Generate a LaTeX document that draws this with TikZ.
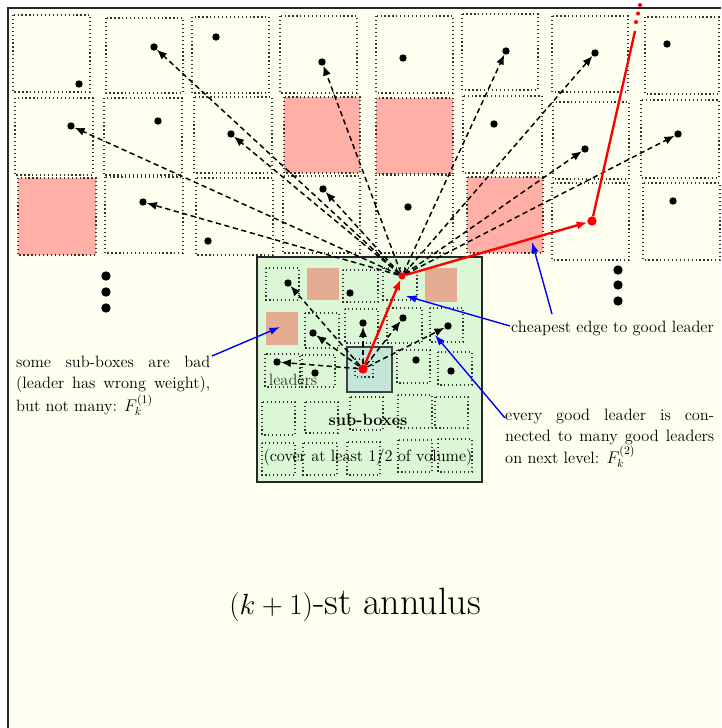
\documentclass[tikz,border=0pt]{standalone}
\usetikzlibrary{arrows.meta}
\definecolor{cream}{HTML}{FEFFEF}
\definecolor{badred}{HTML}{FFAFA5}
\definecolor{boxgreen}{HTML}{DCF7D5}
\definecolor{badbrown}{HTML}{E4AC93}
\definecolor{tealbox}{HTML}{C3E6D9}
\newcommand\lblfont{\fontsize{14}{18.2}\selectfont}
\begin{document}
\begin{tikzpicture}[x=0.03cm,y=-0.03cm,
  obox/.style={draw=black!80, dash pattern=on 1.05pt off 2.3pt, line width=1.05pt},
  ldot/.style={circle, fill=black, inner sep=0pt, minimum size=6.3pt},
  edot/.style={circle, fill=black, inner sep=0pt, minimum size=8pt},
  rdot/.style={circle, fill=red, inner sep=0pt, minimum size=3.5pt},
  darr/.style={dash pattern=on 4.5pt off 3pt, line width=1.25pt, -{Latex[length=8.5pt,width=7pt]}},
  rarr/.style={red, line width=2pt, -{Latex[length=9pt,width=7pt]}},
  barr/.style={blue, line width=1.2pt, -{Latex[length=9pt,width=6.5pt]}},
  txt/.style={inner sep=0pt, font=\lblfont}]
\useasboundingbox (0,0) rectangle (721,728);
\fill[white] (0,0) rectangle (721,728);
\fill[cream] (8,8) rectangle (721,728);
\draw[line width=1.2pt, black!85] (8,728) -- (8,8) -- (721,8);

% bad outer boxes
\foreach \a/\b/\c/\d in {284/97/360/173, 376/98/453/174, 18/178/96/255, 467/177/543/253}
  \fill[badred] (\a,\b) rectangle (\c,\d);
% outer boxes
\foreach \a/\b/\c/\d in {13/15/90/92, 106/18/183/93, 192/17/269/93, 280/16/357/93, 376/16/453/93, 462/14/538/90, 552/16/628/92, 645/17/719/94,
  15/98/93/175, 104/98/182/175, 194/97/272/173, 284/97/360/173, 376/98/453/174, 463/96/542/173, 553/102/629/179, 641/100/719/178,
  18/178/96/255, 105/177/183/253, 196/178/273/255, 283/176/360/253, 376/175/453/253, 467/177/543/253, 552/183/629/260, 643/183/720/260}
  \draw[obox] (\a,\b) rectangle (\c,\d);

% outer leaders
\node[ldot] (d11) at (79,84) {};
\node[ldot] (d12) at (154,47) {};
\node[ldot] (d13) at (216,37) {};
\node[ldot] (d14) at (322,62) {};
\node[ldot] (d15) at (403,58) {};
\node[ldot] (d16) at (506,51) {};
\node[ldot] (d17) at (595,53) {};
\node[ldot] (d18) at (667,44) {};
\node[ldot] (d21) at (71,126) {};
\node[ldot] (d22) at (158,121) {};
\node[ldot] (d23) at (231,134) {};
\node[ldot] (d26) at (494,124) {};
\node[ldot] (d27) at (585,149) {};
\node[ldot] (d28) at (678,134) {};
\node[ldot] (d32) at (143,202) {};
\node[ldot] (d33) at (208,241) {};
\node[ldot] (d34) at (323,189) {};
\node[ldot] (d35) at (408,207) {};
\node[ldot] (d38) at (673,201) {};
\node[circle, fill=red, inner sep=0pt, minimum size=8pt] (d37) at (592,221) {};

% vertical ellipses
\node[edot] (e1) at (106,276) {};
\node[edot] (e2) at (106,292) {};
\node[edot] (e3) at (106,308) {};
\node[edot] (e4) at (618,270) {};
\node[edot] (e5) at (618,285) {};
\node[edot] (e6) at (618,301) {};

% green box
\draw[fill=boxgreen, draw=black!85, line width=0.9pt] (257,257) rectangle (482,482);
\foreach \a/\b/\c/\d in {307/268/339/300, 425/268/457/302, 266/312/298/345}
  \fill[badbrown] (\a,\b) rectangle (\c,\d);
\foreach \a/\b/\c/\d in {266/268/299/300, 343/270/378/302, 383/268/417/300,
  305/313/339/348, 345/309/378/343, 387/308/422/343, 430/308/463/342,
  265/354/300/387, 302/355/335/387, 397/350/430/383, 438/352/472/385,
  262/402/295/435, 305/402/338/433, 350/397/383/430, 398/395/432/428, 435/397/468/428,
  262/443/295/475, 303/443/337/475, 347/442/380/475, 398/440/432/472, 438/439/472/472}
  \draw[obox] (\a,\b) rectangle (\c,\d);
\draw[fill=tealbox, draw=black!75, line width=0.9pt] (347,347) rectangle (392,392);
\draw[obox] (355,359) rectangle (373,377);

% inner leaders
\node[ldot] (a1) at (288,283) {};
\node[ldot] (a3) at (350,293) {};
\node[ldot] (b2) at (313,333) {};
\node[ldot] (b3) at (363,323) {};
\node[ldot] (b4) at (403,318) {};
\node[ldot] (b5) at (448,326) {};
\node[ldot] (c1) at (277,362) {};
\node[ldot] (c2) at (315,373) {};
\node[ldot] (c4) at (416,360) {};
\node[ldot] (c5) at (451,371) {};
\node[circle, fill=red, inner sep=0pt, minimum size=8pt] (ctr) at (363,369) {};
\node[circle, fill=red, inner sep=0pt, minimum size=6pt] (hub) at (402,276) {};

% inner dashed arrows
\foreach \t in {a1,b2,b3,b4,b5,c1}
  \draw[darr] (ctr) -- (\t);
% outer dashed arrows
\foreach \t in {d12,d14,d16,d17,d21,d23,d27,d28,d32,d34}
  \draw[darr] (hub) -- (\t);

% red path
\draw[rarr] (ctr) -- (hub);
\draw[rarr] (hub) -- (d37);
\coordinate (rtop) at (635,31);
\draw[red, line width=2pt] (d37) -- (rtop);
\node[rdot] (r1) at (636,22) {};
\node[rdot] (r2) at (638,13.5) {};
\node[rdot] (r3) at (640,5) {};

% texts
\node[txt, text=black!80, anchor=base] (lead) at (293,385) {leaders};
\node[txt, anchor=base] (sub) at (368,425) {\bfseries sub-boxes};
\node[txt, anchor=base] (cov) at (368,461) {(cover at least 1/2 of volume)};
\node[inner sep=0pt, anchor=base, font=\fontsize{32.5}{38}\selectfont] (ann) at (355,614) {$(k+1)$-st annulus};

\node[txt, anchor=north west, text width=5.82cm, align=justify] (lab1) at (16,356)
  {\tolerance=9999\hbadness=10000 some sub-boxes are bad\linebreak (leader has wrong weight),\linebreak but not many: $F_k^{(1)}$};
\node[txt, anchor=base west] (lab2) at (511,332) {cheapest edge to good leader};
\node[txt, anchor=north west, text width=6.27cm, align=justify] (lab3) at (505,409)
  {\tolerance=9999\hbadness=10000 every good leader is con-\linebreak nected to many good leaders\linebreak on next level: $F_k^{(2)}$};

% blue arrows
\coordinate (bs1) at (212,356);
\coordinate (bt1) at (280,327);
\coordinate (bs2) at (510,326);
\coordinate (bt2) at (406,296);
\coordinate (bs3) at (552,314);
\coordinate (bt3) at (532,242);
\coordinate (bs4) at (505,418);
\coordinate (bt4) at (435,335);
\draw[barr] (bs1) -- (bt1);
\draw[barr] (bs2) -- (bt2);
\draw[barr] (bs3) -- (bt3);
\draw[barr] (bs4) -- (bt4);
\end{tikzpicture}
\end{document}
